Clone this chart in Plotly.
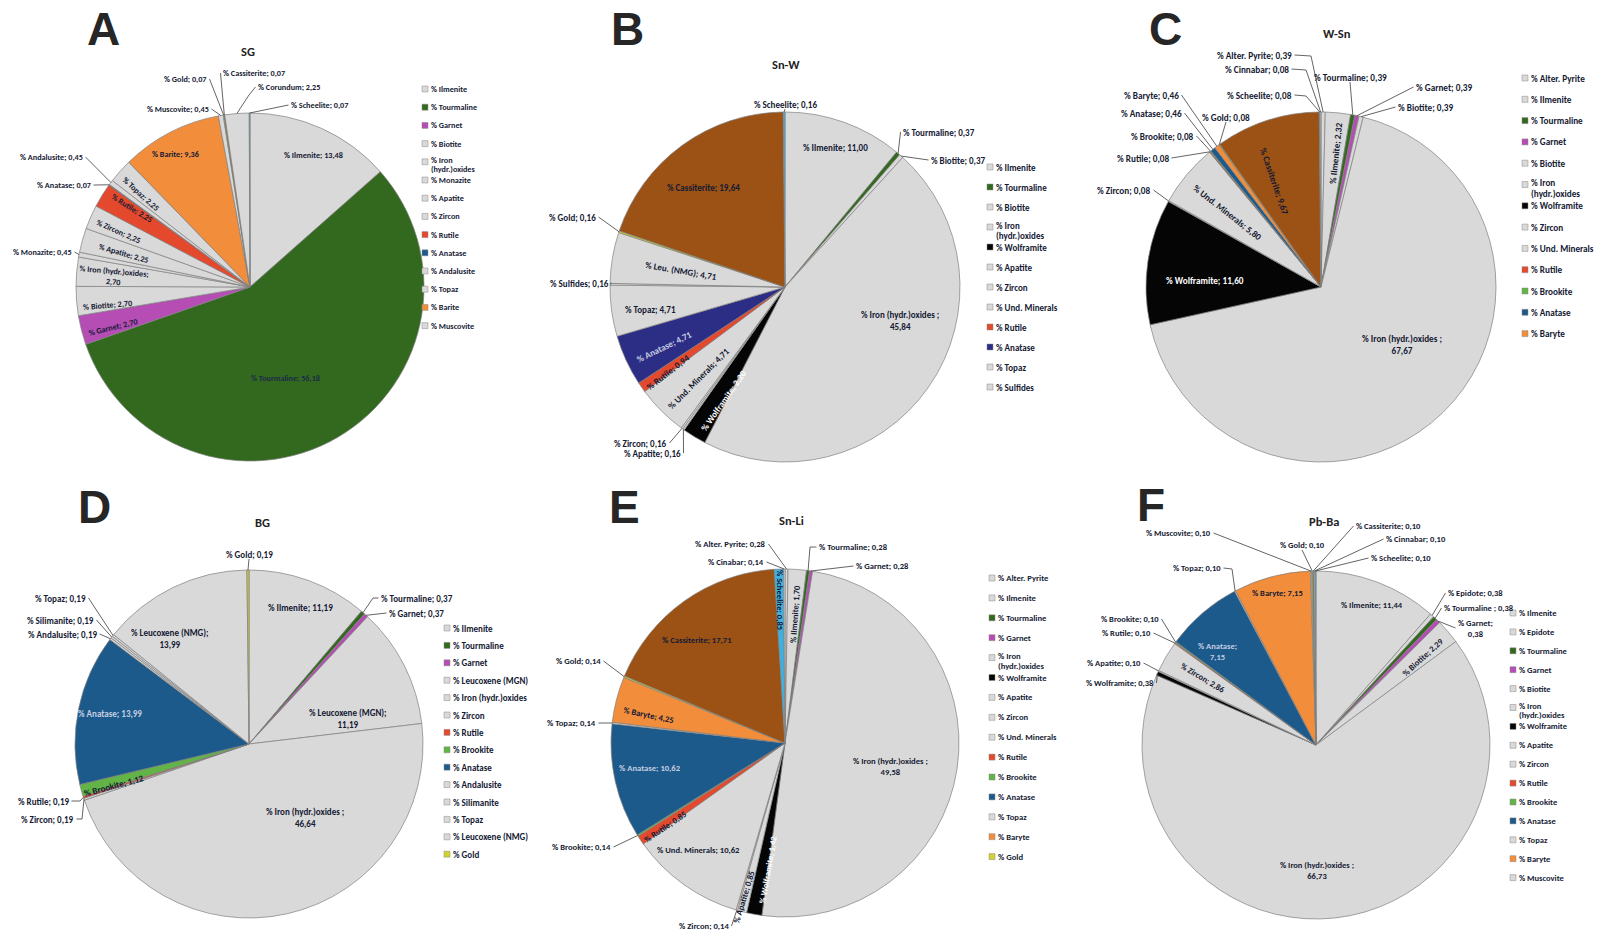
import math
import plotly.graph_objects as go

W, H = 1601, 931

# ---------------- data ----------------
sg_minerals = ["Ilmenite", "Tourmaline", "Garnet", "Biotite", "Iron (hydr.)oxides", "Monazite",
               "Apatite", "Zircon", "Rutile", "Anatase", "Andalusite", "Topaz", "Barite",
               "Muscovite", "Gold", "Cassiterite", "Corundum", "Scheelite"]
sg_values = [13.48, 56.18, 2.70, 2.70, 2.70, 0.45, 2.25, 2.25, 2.25, 0.07, 0.45, 2.25, 9.36,
             0.45, 0.07, 0.07, 2.25, 0.07]

snw_minerals = ["Ilmenite", "Tourmaline", "Biotite", "Iron (hydr.)oxides", "Wolframite", "Apatite",
                "Zircon", "Und. Minerals", "Rutile", "Anatase", "Topaz", "Sulfides", "Leu. (NMG)",
                "Gold", "Cassiterite", "Scheelite"]
snw_values = [11.00, 0.37, 0.37, 45.84, 2.20, 0.16, 0.16, 4.71, 0.94, 4.71, 4.71, 0.16, 4.71,
              0.16, 19.64, 0.16]

wsn_minerals = ["Alter. Pyrite", "Ilmenite", "Tourmaline", "Garnet", "Biotite", "Iron (hydr.)oxides",
                "Wolframite", "Zircon", "Und. Minerals", "Rutile", "Brookite", "Anatase", "Baryte",
                "Gold", "Cassiterite", "Scheelite", "Cinnabar"]
wsn_values = [0.39, 2.32, 0.39, 0.39, 0.39, 67.67, 11.60, 0.08, 5.80, 0.08, 0.08, 0.46, 0.46,
              0.08, 9.67, 0.08, 0.08]

bg_minerals = ["Ilmenite", "Tourmaline", "Garnet", "Leucoxene (MGN)", "Iron (hydr.)oxides", "Zircon",
               "Rutile", "Brookite", "Anatase", "Andalusite", "Silimanite", "Topaz",
               "Leucoxene (NMG)", "Gold"]
bg_values = [11.19, 0.37, 0.37, 11.19, 46.64, 0.19, 0.19, 1.12, 13.99, 0.19, 0.19, 0.19, 13.99, 0.19]

snli_minerals = ["Alter. Pyrite", "Ilmenite", "Tourmaline", "Garnet", "Iron (hydr.)oxides", "Wolframite",
                 "Apatite", "Zircon", "Und. Minerals", "Rutile", "Brookite", "Anatase", "Topaz",
                 "Baryte", "Gold", "Cassiterite", "Scheelite", "Cinabar"]
snli_values = [0.28, 1.70, 0.28, 0.28, 49.58, 1.42, 0.85, 0.14, 10.62, 0.85, 0.14, 10.62, 0.14,
               4.25, 0.14, 17.71, 0.85, 0.14]

pbba_minerals = ["Ilmenite", "Epidote", "Tourmaline", "Garnet", "Biotite", "Iron (hydr.)oxides",
                 "Wolframite", "Apatite", "Zircon", "Rutile", "Brookite", "Anatase", "Topaz", "Baryte",
                 "Muscovite", "Gold", "Cassiterite", "Cinnabar", "Scheelite"]
pbba_values = [11.44, 0.38, 0.38, 0.38, 2.29, 66.73, 0.38, 0.10, 2.86, 0.10, 0.10, 7.15, 0.10, 7.15,
               0.10, 0.10, 0.10, 0.10, 0.10]

# number of entries shown in each legend (first n slices)
legend_counts = {"SG": 14, "Sn-W": 12, "W-Sn": 13, "BG": 14, "Sn-Li": 15, "Pb-Ba": 15}

# ---------------- styling ----------------
FONT = "Carlito, Lato, sans-serif"
TXT = "#151a33"
LIGHT = "#c5cde0"
WHITE = "#ffffff"
GREY = "#D9D9D9"
palette = {
    "Tourmaline": "#33691E", "Garnet": "#B54DB5", "Rutile": "#E5492D", "Anatase": "#1C5A8C",
    "Barite": "#F28E3B", "Baryte": "#F28E3B", "Cassiterite": "#9B5214", "Wolframite": "#050505",
    "Brookite": "#62B446", "Gold": "#D2D22E", "Scheelite": "#3DB2E2",
}


def colours(names, overrides=None):
    overrides = overrides or {}
    return [overrides.get(n, palette.get(n, GREY)) for n in names]


def fmt(v):
    return f"{v:.2f}".replace(".", ",")


def I(x, y, rot=0, wrap=False, col=None, sp=False):
    return dict(out=False, x=x, y=y, rot=rot, wrap=wrap, col=col, sp=sp)


def O(x, y, anchor, bend=None, wrap=False, sp=False):
    return dict(out=True, x=x, y=y, anchor=anchor, bend=bend or [], wrap=wrap, sp=sp)


panels = [
    dict(title="SG", names=sg_minerals, vals=sg_values, cx=250, cy=287, r=174,
         letter="A", lpos=(103, 29), tpos=(248, 51), fs=8.2,
         leg=(425, 89, 18.2, True), over=None,
         spec={
             "Ilmenite": I(313, 155), "Tourmaline": I(285, 378, col="#1c2b4a"),
             "Garnet": I(113, 327, -14), "Biotite": I(107, 305, -5),
             "Iron (hydr.)oxides": I(113, 276, 5, wrap=True), "Monazite": O(73, 252, "r"),
             "Apatite": I(123, 253, 16), "Zircon": I(118, 231, 24), "Rutile": I(132, 208, 32),
             "Anatase": O(92, 185, "r"), "Andalusite": O(84, 157, "r"), "Topaz": I(141, 194, 42),
             "Barite": I(175, 154), "Muscovite": O(210, 109, "r"), "Gold": O(208, 79, "r"),
             "Cassiterite": O(222, 73, "l"), "Corundum": O(257, 87, "l", bend=[(249, 95)]),
             "Scheelite": O(290, 105, "l"),
         }),
    dict(title="Sn-W", names=snw_minerals, vals=snw_values, cx=785, cy=287, r=175,
         letter="B", lpos=(627, 29), tpos=(786, 64), fs=9.0,
         leg=(990, 167, 20.0, True), over={"Anatase": "#2C2E86"},
         spec={
             "Ilmenite": I(835, 147), "Tourmaline": O(902, 132, "l"), "Biotite": O(930, 160, "l"),
             "Iron (hydr.)oxides": I(900, 320, wrap=True, sp=True), "Wolframite": I(723, 400, -55, col=WHITE),
             "Apatite": O(682, 453, "r"), "Zircon": O(668, 443, "r"),
             "Und. Minerals": I(698, 378, -45), "Rutile": I(667, 372, -38),
             "Anatase": I(664, 346, -26, col=LIGHT), "Topaz": I(650, 309),
             "Sulfides": O(610, 283, "r"), "Leu. (NMG)": I(681, 270, 10), "Gold": O(597, 217, "r"),
             "Cassiterite": I(703, 187), "Scheelite": O(785, 104, "c"),
         }),
    dict(title="W-Sn", names=wsn_minerals, vals=wsn_values, cx=1321, cy=287, r=175,
         letter="C", lpos=(1165, 29), tpos=(1337, 33), fs=9.2,
         leg=(1525, 78, 21.3, True), over=None,
         spec={
             "Alter. Pyrite": O(1293, 55, "r", bend=[(1311, 56)]),
             "Cinnabar": O(1290, 69, "r", bend=[(1306, 70)]),
             "Scheelite": O(1293, 95, "r", bend=[(1306, 96)]),
             "Tourmaline": O(1350, 77, "c"), "Garnet": O(1415, 87, "l"), "Biotite": O(1397, 107, "l"),
             "Ilmenite": I(1335, 153, -84), "Iron (hydr.)oxides": I(1402, 344, wrap=True, sp=True),
             "Wolframite": I(1205, 280, col=WHITE), "Zircon": O(1152, 190, "r"),
             "Und. Minerals": I(1228, 212, 38), "Rutile": O(1170, 158, "r"),
             "Brookite": O(1195, 136, "r"), "Anatase": O(1183, 113, "r"), "Baryte": O(1180, 95, "r"),
             "Gold": O(1226, 117, "c"), "Cassiterite": I(1275, 181, 71),
         }),
    dict(title="BG", names=bg_minerals, vals=bg_values, cx=249, cy=744, r=174,
         letter="D", lpos=(94, 507), tpos=(262, 522), fs=9.0,
         leg=(447, 628, 17.4, False), over=None,
         spec={
             "Ilmenite": I(300, 607), "Tourmaline": O(380, 598, "l", bend=[(373, 598)]),
             "Garnet": O(388, 613, "l"), "Leucoxene (MGN)": I(348, 718, wrap=True),
             "Iron (hydr.)oxides": I(305, 817, wrap=True, sp=True),
             "Zircon": O(75, 819, "r", bend=[(82, 819)]), "Rutile": O(70, 801, "r", bend=[(80, 801)]),
             "Brookite": I(113, 785, -15), "Anatase": I(110, 713, col=LIGHT),
             "Andalusite": O(98, 634, "r"), "Silimanite": O(95, 620, "r"), "Topaz": O(87, 598, "r"),
             "Leucoxene (NMG)": I(170, 638, wrap=True), "Gold": O(249, 554, "c"),
         }),
    dict(title="Sn-Li", names=snli_minerals, vals=snli_values, cx=785, cy=743, r=174,
         letter="E", lpos=(624, 507), tpos=(791, 520), fs=8.6,
         leg=(992, 578, 19.9, True), over=None,
         spec={
             "Alter. Pyrite": O(767, 544, "r"), "Ilmenite": I(795, 614, -86),
             "Tourmaline": O(818, 547, "l", bend=[(810, 547)]), "Garnet": O(855, 566, "l"),
             "Iron (hydr.)oxides": I(890, 766, wrap=True, sp=True),
             "Wolframite": I(768, 870, -80, col=WHITE), "Apatite": I(744, 897, -73),
             "Zircon": O(730, 926, "r"), "Und. Minerals": I(698, 850), "Rutile": I(665, 827, -34),
             "Brookite": O(612, 847, "r"), "Anatase": I(650, 768, col=LIGHT), "Topaz": O(597, 723, "r"),
             "Baryte": I(648, 715, 12), "Gold": O(602, 661, "r"), "Cassiterite": I(697, 640),
             "Scheelite": I(780, 600, 90), "Cinabar": O(765, 562, "r"),
         }),
    dict(title="Pb-Ba", names=pbba_minerals, vals=pbba_values, cx=1316, cy=745, r=174,
         letter="F", lpos=(1151, 505), tpos=(1324, 521), fs=8.5,
         leg=(1513, 613, 18.9, True), over=None,
         spec={
             "Ilmenite": I(1372, 605), "Epidote": O(1447, 593, "l"),
             "Tourmaline": O(1443, 608, "l", sp=True), "Garnet": O(1457, 628, "l", wrap=True),
             "Biotite": I(1423, 657, -42), "Iron (hydr.)oxides": I(1317, 870, wrap=True, sp=True),
             "Wolframite": O(1155, 683, "r"), "Apatite": O(1142, 663, "r"), "Zircon": I(1203, 678, 31),
             "Rutile": O(1152, 633, "r"), "Brookite": O(1160, 619, "r"),
             "Anatase": I(1217, 651, wrap=True, col=LIGHT), "Topaz": O(1222, 568, "r", bend=[(1232, 569)]),
             "Baryte": I(1277, 593), "Muscovite": O(1212, 533, "r"), "Gold": O(1302, 545, "c"),
             "Cassiterite": O(1355, 526, "l"), "Cinnabar": O(1385, 539, "l"), "Scheelite": O(1370, 558, "l"),
         }),
]

fig = go.Figure()
# invisible pixel-space axes used to place labels, leader lines and legends
fig.add_trace(go.Scatter(x=[0, W], y=[0, H], mode="markers", marker=dict(opacity=0),
                         hoverinfo="skip", showlegend=False))

annotations = []
shapes = []


def text(x, y, s, size=8, col=TXT, xanchor="center", yanchor="middle", angle=0,
         family=FONT, align="center"):
    annotations.append(dict(x=x, y=y, xref="x", yref="y", text=f"<b>{s}</b>",
                            showarrow=False, xanchor=xanchor, yanchor=yanchor, textangle=angle,
                            align=align, borderpad=0,
                            font=dict(family=family, size=size, color=col)))


for p in panels:
    names, vals, cx, cy, r, fs = p["names"], p["vals"], p["cx"], p["cy"], p["r"], p["fs"]
    cols = colours(names, p["over"])
    fig.add_trace(go.Pie(
        labels=names, values=vals, sort=False, direction="clockwise", rotation=0,
        marker=dict(colors=cols, line=dict(color="#808080", width=0.7)),
        textinfo="none", hoverinfo="label+value", showlegend=False,
        domain=dict(x=[(cx - r) / W, (cx + r) / W], y=[1 - (cy + r) / H, 1 - (cy - r) / H]),
    ))

    total = sum(vals)
    cum = 0.0
    for name, v in zip(names, vals):
        t = 2 * math.pi * (cum + v / 2) / total
        cum += v
        ex, ey = cx + r * math.sin(t), cy - r * math.cos(t)
        sp = p["spec"][name]
        sep = " ;" if sp["sp"] else ";"
        label = f"% {name}{sep}<br>{fmt(v)}" if sp["wrap"] else f"% {name}{sep} {fmt(v)}"
        if not sp["out"]:
            text(sp["x"], sp["y"], label, size=fs, col=sp["col"] or TXT, angle=sp["rot"])
        else:
            a = sp["anchor"]
            xa = {"l": "left", "r": "right", "c": "center"}[a]
            text(sp["x"], sp["y"], label, size=fs, xanchor=xa,
                 align="center" if sp["wrap"] else xa)
            if a == "r":
                start = (sp["x"] + 1.5, sp["y"])
            elif a == "l":
                start = (sp["x"] - 1.5, sp["y"])
            else:
                start = (sp["x"], sp["y"] + 5)
            pts = [start] + sp["bend"] + [(ex, ey)]
            path = "M " + " L ".join(f"{px:.1f},{py:.1f}" for px, py in pts)
            shapes.append(dict(type="path", path=path, xref="x", yref="y",
                               line=dict(color="#3c3c3c", width=0.8)))

    # panel letter and title
    text(p["lpos"][0], p["lpos"][1], p["letter"], size=46, col="#262626",
         family="Liberation Sans, Arial, sans-serif")
    text(p["tpos"][0], p["tpos"][1], p["title"], size=12.5, col="#222222")

    # legend
    lx, ly, step, wrap_iron = p["leg"]
    for k in range(legend_counts[p["title"]]):
        name = names[k]
        yy = ly + k * step
        shapes.append(dict(type="rect", xref="x", yref="y", x0=lx - 3, x1=lx + 3,
                           y0=yy - 3, y1=yy + 3, fillcolor=cols[k],
                           line=dict(color="#8a8a8a", width=0.5)))
        if name == "Iron (hydr.)oxides" and wrap_iron:
            text(lx + 5, yy - 2, "% Iron", size=fs, xanchor="left", align="left")
            text(lx + 5, yy - 2 + min(0.5 * step + 0.5, fs + 1.5), "(hydr.)oxides", size=fs,
                 xanchor="left", align="left")
        else:
            text(lx + 5, yy, f"% {name}", size=fs, xanchor="left", align="left")

fig.update_layout(
    width=W, height=H, margin=dict(l=0, r=0, t=0, b=0),
    paper_bgcolor="white", plot_bgcolor="white",
    xaxis=dict(range=[0, W], visible=False, fixedrange=True, domain=[0, 1]),
    yaxis=dict(range=[H, 0], visible=False, fixedrange=True, domain=[0, 1]),
    annotations=annotations, shapes=shapes, showlegend=False,
)

fig.write_html("out.html")
